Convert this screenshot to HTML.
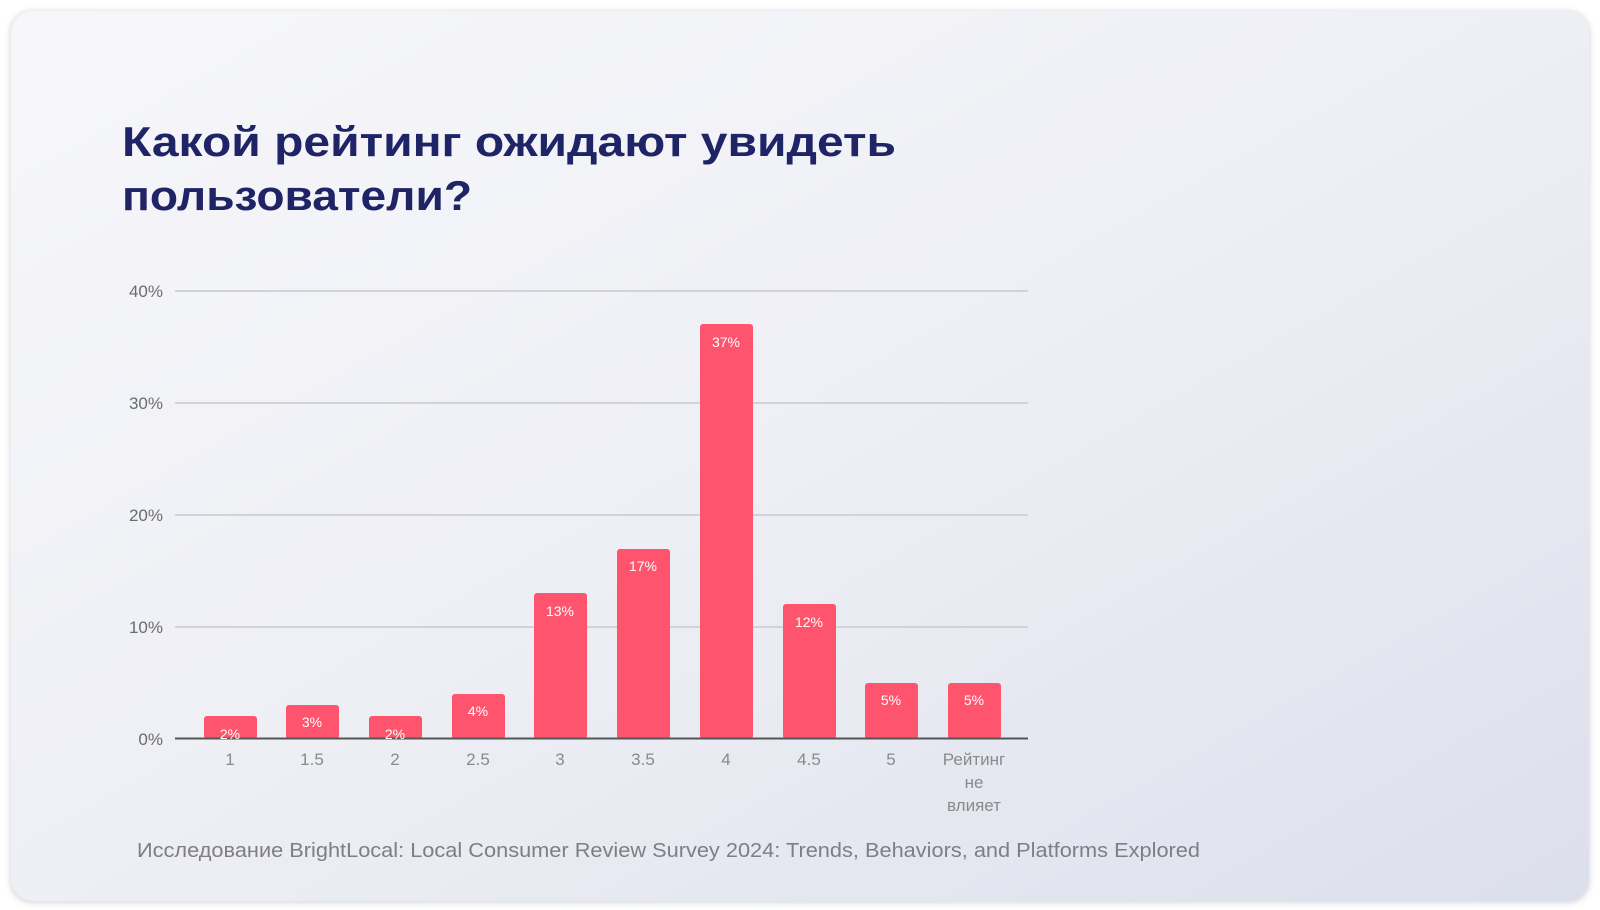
<!DOCTYPE html>
<html><head><meta charset="utf-8"><style>
html,body{margin:0;padding:0;width:1600px;height:910px;overflow:hidden;background:#fff}
</style></head><body>
<svg width="1600" height="910" viewBox="0 0 1600 910" xmlns="http://www.w3.org/2000/svg" style="display:block;font-family:'Liberation Sans',sans-serif">
<defs>
<linearGradient id="bg" x1="0" y1="0" x2="1" y2="1">
<stop offset="0" stop-color="#f7f7fa"/><stop offset="0.5" stop-color="#eeeff5"/><stop offset="1" stop-color="#dcdfec"/>
</linearGradient>
<filter id="sh" x="-5%" y="-5%" width="110%" height="110%"><feGaussianBlur stdDeviation="3"/></filter>
</defs>
<rect x="10" y="11" width="1580" height="892" rx="22" fill="#bfc0c6" filter="url(#sh)" opacity="0.6"/>
<rect x="11" y="11" width="1578" height="890" rx="22" fill="url(#bg)"/>
<g fill="#1f2467" font-weight="bold" font-size="42">
<text x="122" y="156" textLength="774" lengthAdjust="spacingAndGlyphs">Какой рейтинг ожидают увидеть</text>
<text x="122" y="210" textLength="350" lengthAdjust="spacingAndGlyphs">пользователи?</text>
</g>
<g stroke="#d2d3d8" stroke-width="2">
<line x1="175" y1="291" x2="1028" y2="291"/>
<line x1="175" y1="403" x2="1028" y2="403"/>
<line x1="175" y1="515" x2="1028" y2="515"/>
<line x1="175" y1="627" x2="1028" y2="627"/>
</g>
<g fill="#6b6b6b" font-size="17" text-anchor="end">
<text x="163" y="297">40%</text><text x="163" y="409">30%</text><text x="163" y="521">20%</text><text x="163" y="633">10%</text><text x="163" y="745">0%</text>
</g>
<g fill="#ff546e">
<rect x="204" y="716" width="53" height="23" rx="3"/>
<rect x="286" y="705" width="53" height="34" rx="3"/>
<rect x="369" y="716" width="53" height="23" rx="3"/>
<rect x="452" y="694" width="53" height="45" rx="3"/>
<rect x="534" y="593" width="53" height="146" rx="3"/>
<rect x="617" y="549" width="53" height="190" rx="3"/>
<rect x="700" y="324" width="53" height="415" rx="3"/>
<rect x="783" y="604" width="53" height="135" rx="3"/>
<rect x="865" y="683" width="53" height="56" rx="3"/>
<rect x="948" y="683" width="53" height="56" rx="3"/>
</g>
<line x1="175" y1="738.5" x2="1028" y2="738.5" stroke="#555" stroke-width="2"/>
<g fill="#fff" font-size="14" text-anchor="middle">
<text x="230" y="739">2%</text><text x="312" y="727">3%</text><text x="395" y="739">2%</text><text x="478" y="716">4%</text>
<text x="560" y="616">13%</text><text x="643" y="571">17%</text><text x="726" y="347">37%</text><text x="809" y="627">12%</text>
<text x="891" y="705">5%</text><text x="974" y="705">5%</text>
</g>
<g fill="#8a8a8a" font-size="17" text-anchor="middle">
<text x="230" y="765">1</text><text x="312" y="765">1.5</text><text x="395" y="765">2</text><text x="478" y="765">2.5</text>
<text x="560" y="765">3</text><text x="643" y="765">3.5</text><text x="726" y="765">4</text><text x="809" y="765">4.5</text>
<text x="891" y="765">5</text><text x="974" y="765">Рейтинг</text><text x="974" y="788">не</text><text x="974" y="811">влияет</text>
</g>
<text x="137" y="857" fill="#7e7e84" font-size="20" textLength="1063" lengthAdjust="spacingAndGlyphs">Исследование BrightLocal: Local Consumer Review Survey 2024: Trends, Behaviors, and Platforms Explored</text>
</svg>
</body></html>
